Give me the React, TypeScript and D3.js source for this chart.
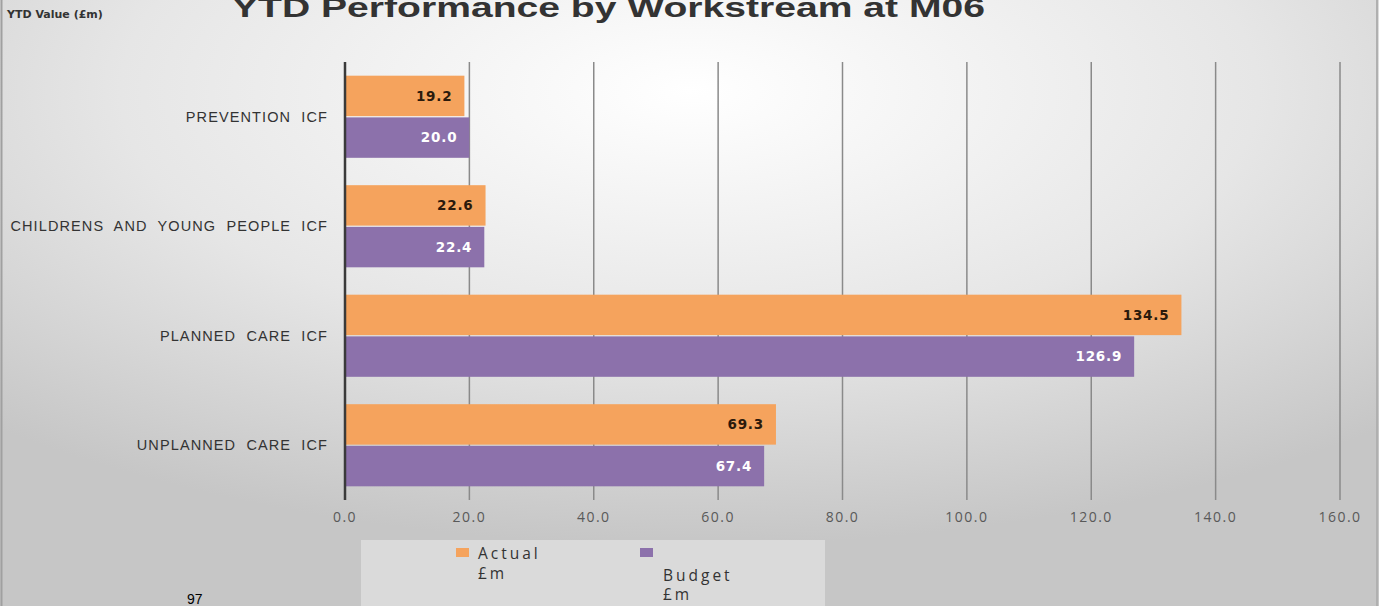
import { useEffect, useRef } from 'react';
import * as d3 from 'd3';

const categories = ['PREVENTION  ICF', 'CHILDRENS  AND  YOUNG  PEOPLE  ICF', 'PLANNED  CARE  ICF', 'UNPLANNED  CARE  ICF'];
const actual = [19.2, 22.6, 134.5, 69.3];
const budget = [20.0, 22.4, 126.9, 67.4];
const xTicks = [0, 20, 40, 60, 80, 100, 120, 140, 160];
const seriesNames = ['Actual', 'Budget'];

const ORANGE = '#F5A35D';
const PURPLE = '#8C71AB';

export default function App() {
  const svgRef = useRef<SVGSVGElement | null>(null);

  useEffect(() => {
    if (!svgRef.current) return;
    const svg = d3.select(svgRef.current);
    svg.selectAll('*').remove();

    const width = 1379;
    const height = 606;

    // background
    const defs = svg.append('defs');
    const grad = defs
      .append('radialGradient')
      .attr('id', 'bg')
      .attr('cx', '50%')
      .attr('cy', '15%')
      .attr('r', '75%');
    grad.append('stop').attr('offset', '0%').attr('stop-color', '#ffffff');
    grad.append('stop').attr('offset', '55%').attr('stop-color', '#e6e6e6');
    grad.append('stop').attr('offset', '100%').attr('stop-color', '#c6c6c6');

    svg.append('rect').attr('width', width).attr('height', height).attr('fill', 'url(#bg)');
    svg.append('line').attr('x1', 1.5).attr('x2', 1.5).attr('y1', 0).attr('y2', height)
      .attr('stroke', '#a0a0a0').attr('stroke-width', 2);
    svg.append('line').attr('x1', 1377).attr('x2', 1377).attr('y1', 0).attr('y2', height)
      .attr('stroke', '#b0b0b0').attr('stroke-width', 2);

    const x = d3.scaleLinear().domain([0, 160]).range([345, 1340]);
    const y0 = d3.scaleBand<string>().domain(categories).range([62, 500])
      .paddingInner(0.25).paddingOuter(0.125);
    const y1 = d3.scaleBand<string>().domain(seriesNames).range([0, y0.bandwidth()]).paddingInner(0.03);

    // grid
    svg.append('g')
      .selectAll('line')
      .data(xTicks.slice(1))
      .join('line')
      .attr('x1', (d) => x(d))
      .attr('x2', (d) => x(d))
      .attr('y1', 62)
      .attr('y2', 500)
      .attr('stroke', '#8a8a8a')
      .attr('stroke-width', 1.5);

    // bars
    const rows = categories.map((c, i) => ({ c, vals: [actual[i], budget[i]] }));
    const groups = svg.append('g')
      .selectAll('g')
      .data(rows)
      .join('g')
      .attr('transform', (d) => `translate(0,${y0(d.c)})`);

    groups.selectAll('rect')
      .data((d) => d.vals.map((v, j) => ({ v, s: seriesNames[j] })))
      .join('rect')
      .attr('x', x(0))
      .attr('y', (d) => y1(d.s) as number)
      .attr('width', (d) => x(d.v) - x(0))
      .attr('height', y1.bandwidth())
      .attr('fill', (d) => (d.s === 'Actual' ? ORANGE : PURPLE));

    groups.selectAll('text.val')
      .data((d) => d.vals.map((v, j) => ({ v, s: seriesNames[j] })))
      .join('text')
      .attr('class', 'val')
      .attr('x', (d) => x(d.v) - 12)
      .attr('y', (d) => (y1(d.s) as number) + y1.bandwidth() / 2)
      .attr('dy', '0.35em')
      .attr('text-anchor', 'end')
      .attr('font-family', 'DejaVu Sans, sans-serif')
      .attr('font-weight', 'bold')
      .attr('font-size', 13.5)
      .attr('letter-spacing', 0.8)
      .attr('fill', (d) => (d.s === 'Actual' ? '#2b1a0c' : '#ffffff'))
      .text((d) => d3.format('.1f')(d.v));

    // axis line
    svg.append('line')
      .attr('x1', x(0)).attr('x2', x(0)).attr('y1', 62).attr('y2', 500)
      .attr('stroke', '#3a3a3a').attr('stroke-width', 2.5);

    // x tick labels
    svg.append('g')
      .selectAll('text')
      .data(xTicks)
      .join('text')
      .attr('x', (d) => x(d))
      .attr('y', 522)
      .attr('text-anchor', 'middle')
      .attr('font-family', 'Open Sans, sans-serif')
      .attr('font-size', 14)
      .attr('letter-spacing', 1.5)
      .attr('fill', '#595959')
      .text((d) => d3.format('.1f')(d));

    // category labels
    svg.append('g')
      .selectAll('text')
      .data(categories)
      .join('text')
      .attr('x', 328)
      .attr('y', (d) => (y0(d) as number) + y0.bandwidth() / 2)
      .attr('dy', '0.35em')
      .attr('text-anchor', 'end')
      .attr('font-family', 'Liberation Sans, Arial, sans-serif')
      .attr('font-size', 14.5)
      .attr('letter-spacing', 1.1)
      .attr('fill', '#333')
      .style('white-space', 'pre')
      .text((d) => d);

    // titles (top of the title is cropped, as in the source)
    svg.append('text')
      .attr('x', 232)
      .attr('y', 17)
      .attr('font-family', 'Liberation Sans, Arial, sans-serif')
      .attr('font-weight', 'bold')
      .attr('font-size', 27)
      .attr('textLength', 753)
      .attr('lengthAdjust', 'spacingAndGlyphs')
      .attr('fill', '#333')
      .text('YTD Performance by Workstream at M06');

    svg.append('text')
      .attr('x', 7)
      .attr('y', 18)
      .attr('font-family', 'DejaVu Sans, sans-serif')
      .attr('font-weight', 'bold')
      .attr('font-size', 11)
      .attr('fill', '#333')
      .text('YTD Value (£m)');

    // legend
    const lg = svg.append('g');
    lg.append('rect').attr('x', 361).attr('y', 540).attr('width', 464).attr('height', 70)
      .attr('fill', '#ffffff').attr('opacity', 0.35);
    const legendItems = [
      { color: ORANGE, sx: 456, tx: 478, lines: ['Actual', '£m'], y0: 559 },
      { color: PURPLE, sx: 640, tx: 663, lines: ['', 'Budget', '£m'], y0: 561 },
    ];
    legendItems.forEach((it) => {
      lg.append('rect').attr('x', it.sx).attr('y', 548).attr('width', 13).attr('height', 9).attr('fill', it.color);
      it.lines.forEach((t, k) => {
        lg.append('text')
          .attr('x', it.tx)
          .attr('y', it.y0 + k * 19.5)
          .attr('font-family', 'Open Sans, sans-serif')
          .attr('font-size', 15.5)
          .attr('letter-spacing', 3)
          .attr('fill', '#333')
          .text(t);
      });
    });

    svg.append('text')
      .attr('x', 187)
      .attr('y', 604)
      .attr('font-family', 'Liberation Sans, Arial, sans-serif')
      .attr('font-size', 14)
      .attr('fill', '#000')
      .text('97');
  }, []);

  return (
    <svg
      ref={svgRef}
      width={1379}
      height={606}
      style={{ position: 'absolute', left: 0, top: 0, display: 'block' }}
    />
  );
}
